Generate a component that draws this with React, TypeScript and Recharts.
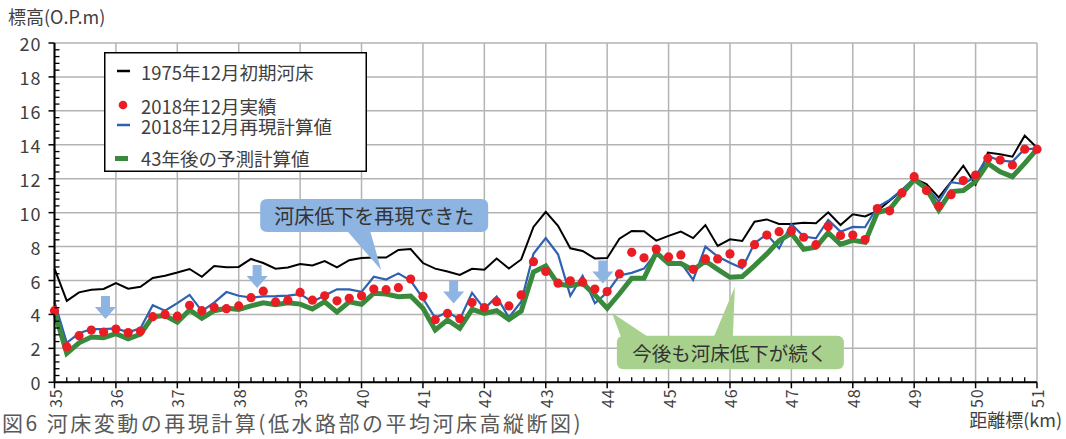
import React from 'react';
import { LineChart, Line, XAxis, YAxis, CartesianGrid, Legend, ReferenceDot } from 'recharts';

// 距離標 (km), every 200 m
const distanceKm = [
  35, 35.2, 35.4, 35.6, 35.8, 36, 36.2, 36.4, 36.6, 36.8,
  37, 37.2, 37.4, 37.6, 37.8, 38, 38.2, 38.4, 38.6, 38.8,
  39, 39.2, 39.4, 39.6, 39.8, 40, 40.2, 40.4, 40.6, 40.8,
  41, 41.2, 41.4, 41.6, 41.8, 42, 42.2, 42.4, 42.6, 42.8,
  43, 43.2, 43.4, 43.6, 43.8, 44, 44.2, 44.4, 44.6, 44.8,
  45, 45.2, 45.4, 45.6, 45.8, 46, 46.2, 46.4, 46.6, 46.8,
  47, 47.2, 47.4, 47.6, 47.8, 48, 48.2, 48.4, 48.6, 48.8,
  49, 49.2, 49.4, 49.6, 49.8, 50, 50.2, 50.4, 50.6, 50.8,
  51,
];

// 1975年12月初期河床
const bed1975 = [
  6.7, 4.8, 5.3, 5.45, 5.5, 5.85, 5.52, 5.63, 6.15, 6.28,
  6.47, 6.68, 6.22, 6.85, 6.78, 6.8, 7.27, 7.03, 6.7, 6.77,
  6.97, 6.89, 7.15, 6.78, 7.2, 7.32, 7.36, 7.35, 7.8, 7.85,
  7.03, 6.7, 6.53, 6.33, 6.69, 6.64, 7.3, 6.71, 7.24, 9.16,
  10.05, 9.22, 7.9, 7.74, 7.3, 7.32, 8.47, 8.92, 8.9, 8.35,
  8.63, 8.88, 8.5, 9.27, 8.04, 8.43, 8.33, 9.47, 9.6, 9.33,
  9.33, 9.41, 9.37, 10.02, 9.27, 9.9, 9.78, 10.1, 10.7, 11.3,
  12.0, 11.69, 10.9, 11.82, 12.77, 11.65, 13.54, 13.44, 13.3, 14.54,
  13.83,
];

// 2018年12月実績
const bed2018Observed = [
  4.22, 2.1, 2.75, 3.08, 2.96, 3.14, 2.93, 3.02, 3.87, 4.0,
  3.9, 4.54, 4.22, 4.42, 4.34, 4.5, 4.99, 5.37, 4.74, 4.84,
  5.3, 4.84, 5.1, 4.8, 4.95, 5.1, 5.5, 5.46, 5.58, 6.09,
  5.07, 3.69, 4.06, 3.75, 4.7, 4.4, 4.75, 4.5, 5.15, 7.11,
  6.53, 5.84, 5.98, 5.9, 5.5, 5.35, 6.39, 7.66, 7.34, 7.85,
  7.39, 7.51, 6.66, 7.27, 7.27, 7.57, 7.01, 8.11, 8.68, 8.88,
  8.92, 8.55, 8.11, 9.18, 8.66, 8.68, 8.41, 10.24, 10.11, 11.16,
  12.12, 11.3, 10.39, 11.06, 11.89, 12.22, 13.2, 13.1, 12.81, 13.74,
  13.74,
];

// 2018年12月再現計算値
const bed2018Reproduced = [
  4.75, 2.33, 2.89, 3.14, 3.14, 3.18, 2.95, 3.18, 4.54, 4.22,
  4.67, 5.15, 4.2, 4.7, 5.32, 5.1, 4.99, 5.07, 5.08, 5.11,
  5.2, 4.75, 5.12, 5.48, 5.48, 5.33, 6.22, 6.06, 6.42, 6.0,
  4.95, 3.8, 4.15, 3.7, 5.27, 4.33, 5.05, 3.82, 4.75, 7.58,
  8.5, 7.55, 5.1, 6.28, 4.66, 5.3, 6.3, 6.45, 6.7, 7.65,
  7.11, 7.06, 6.03, 8.0, 7.41, 7.05, 6.72, 8.2, 8.72, 7.9,
  9.33, 8.59, 8.49, 9.57, 8.88, 9.16, 9.14, 10.33, 10.75, 11.34,
  12.0, 11.53, 10.65, 11.79, 11.69, 12.12, 13.34, 13.07, 13.01, 13.76,
  13.76,
];

// 43年後の予測計算値
const bed43YearsLater = [
  4.15, 1.71, 2.33, 2.67, 2.63, 2.87, 2.56, 2.83, 3.87, 3.93,
  3.54, 4.26, 3.77, 4.22, 4.36, 4.3, 4.5, 4.69, 4.58, 4.69,
  4.61, 4.32, 4.75, 4.14, 4.74, 4.6, 5.25, 5.2, 5.05, 5.09,
  4.36, 3.08, 3.67, 3.18, 4.3, 4.06, 4.22, 3.71, 4.2, 6.5,
  6.86, 5.78, 5.7, 5.84, 5.15, 4.36, 5.22, 6.13, 6.13, 7.65,
  7.0, 7.0, 6.62, 7.15, 6.66, 6.19, 6.23, 6.88, 7.57, 8.35,
  8.78, 7.84, 7.96, 8.82, 8.13, 8.37, 8.26, 10.0, 10.2, 11.1,
  11.95, 11.43, 10.16, 11.24, 11.3, 11.83, 12.9, 12.41, 12.12, 12.9,
  13.74,
];

// labelled axis values
const kmLabels = [35, 36, 37, 38, 39, 40, 41, 42, 43, 44, 45, 46, 47, 48, 49, 50, 51];
const elevationLabels = [0, 2, 4, 6, 8, 10, 12, 14, 16, 18, 20];
// minor elevation ticks every 0.4 m
const elevationTicks = Array.from({ length: 51 }, (_, i) => Math.round(i * 4) / 10);

const data = distanceKm.map((km, i) => ({
  km,
  initial: bed1975[i],
  observed: bed2018Observed[i],
  reproduced: bed2018Reproduced[i],
  forecast: bed43YearsLater[i],
}));

const FONT = "'Noto Sans CJK JP', 'Noto Sans', sans-serif";
const TEXT = '#404040';
const BLUE_NOTE = '#8eb4e2';
const GREEN_NOTE = '#a9d18e';

const KmTick = (props: any) => {
  const { x, y, payload } = props;
  const v = payload.value;
  if (!Number.isInteger(v)) {
    return <line x1={x} x2={x} y1={y} y2={y - 5} stroke="#000" strokeWidth={1.3} />;
  }
  return (
    <g>
      <line x1={x} x2={x} y1={y} y2={y + 6} stroke="#000" strokeWidth={1.5} />
      <text
        transform={`translate(${x},${y + 6}) rotate(-90)`}
        textAnchor="end"
        dominantBaseline="central"
        fontFamily={FONT}
        fontSize={16}
        letterSpacing={1}
        fill={TEXT}
      >
        {v}
      </text>
    </g>
  );
};

const ElevationTick = (props: any) => {
  const { x, y, payload } = props;
  const v = payload.value;
  const major = Math.abs(v / 2 - Math.round(v / 2)) < 1e-6;
  if (!major) {
    return <line x1={x} x2={x + 5} y1={y} y2={y} stroke="#000" strokeWidth={1.3} />;
  }
  return (
    <g>
      <line x1={x - 6} x2={x} y1={y} y2={y} stroke="#000" strokeWidth={1.5} />
      <text
        x={x - 13}
        y={y}
        textAnchor="end"
        dominantBaseline="central"
        fontFamily={FONT}
        fontSize={18}
        letterSpacing={1}
        fill={TEXT}
      >
        {v}
      </text>
    </g>
  );
};

const LegendBox = () => (
  <svg width={263} height={120} style={{ display: 'block' }}>
    <rect x={0.75} y={0.75} width={261.5} height={118.5} fill="#fff" stroke="#000" strokeWidth={1.5} />
    <g fontFamily={FONT} fontSize={18.5} fill={TEXT}>
      <line x1={13} x2={26} y1={19} y2={19} stroke="#000" strokeWidth={2.5} />
      <text x={37} y={20} dominantBaseline="central">1975年12月初期河床</text>
      <circle cx={19} cy={53} r={4.3} fill="#ea1c24" />
      <text x={37} y={53.5} dominantBaseline="central">2018年12月実績</text>
      <line x1={13} x2={26} y1={73} y2={73} stroke="#2e62b0" strokeWidth={2.5} />
      <text x={37} y={74} dominantBaseline="central">2018年12月再現計算値</text>
      <line x1={11} x2={24} y1={106.5} y2={106.5} stroke="#3a8a3d" strokeWidth={5} />
      <text x={37} y={105.5} dominantBaseline="central">43年後の予測計算値</text>
    </g>
  </svg>
);

// light-blue downward arrow, anchored at its top centre
const DownArrow = (props: any) => {
  const { cx, cy } = props;
  const pts = [
    [cx - 4.5, cy], [cx + 4.5, cy], [cx + 4.5, cy + 11], [cx + 10.5, cy + 11],
    [cx, cy + 23], [cx - 10.5, cy + 11], [cx - 4.5, cy + 11],
  ].map((p) => p.join(',')).join(' ');
  return <polygon points={pts} fill={BLUE_NOTE} />;
};

const roundedBox = (x0: number, y0: number, x1: number, y1: number, r: number) =>
  `M${x0 + r},${y0} H${x1 - r} Q${x1},${y0} ${x1},${y0 + r} V${y1 - r} Q${x1},${y1} ${x1 - r},${y1} ` +
  `H${x0 + r} Q${x0},${y1} ${x0},${y1 - r} V${y0 + r} Q${x0},${y0} ${x0 + r},${y0} Z`;

// callout above the 1975 bed line; anchored at the pointer tip
const ReproducedNote = (props: any) => {
  const { cx, cy } = props;
  return (
    <g>
      <path d={roundedBox(cx - 121, cy - 71, cx + 107, cy - 38, 7)} fill={BLUE_NOTE} />
      <polygon points={`${cx - 34},${cy - 39} ${cx - 11},${cy - 39} ${cx},${cy}`} fill={BLUE_NOTE} />
      <text x={cx - 7} y={cy - 54.5} textAnchor="middle" dominantBaseline="central" fontFamily={FONT} fontSize={20} fill="#333">
        河床低下を再現できた
      </text>
    </g>
  );
};

// callout below the forecast line; anchored at the right pointer tip
const ForecastNote = (props: any) => {
  const { cx, cy } = props;
  return (
    <g>
      <path d={roundedBox(cx - 118, cy + 49, cx + 109, cy + 82.5, 7)} fill={GREEN_NOTE} />
      <polygon points={`${cx - 123},${cy + 26} ${cx - 114},${cy + 50} ${cx - 87},${cy + 50}`} fill={GREEN_NOTE} />
      <polygon points={`${cx - 21},${cy + 50} ${cx - 2},${cy + 50} ${cx},${cy}`} fill={GREEN_NOTE} />
      <text x={cx - 5} y={cy + 66} textAnchor="middle" dominantBaseline="central" fontFamily={FONT} fontSize={19.5} fill="#333">
        今後も河床低下が続く
      </text>
    </g>
  );
};

export default function App() {
  return (
    <div style={{ position: 'absolute', left: 0, top: 0, width: 1066, height: 439, background: '#fff' }}>
      <LineChart width={1066} height={439} data={data} margin={{ top: 43, right: 29, bottom: 0, left: 0 }}>
        <CartesianGrid
          stroke="#b3b3b3"
          strokeWidth={1.5}
          verticalValues={kmLabels}
          horizontalValues={elevationLabels}
        />
        <XAxis
          dataKey="km"
          type="number"
          domain={[35, 51]}
          ticks={distanceKm}
          interval={0}
          height={56.7}
          tickSize={0}
          tickMargin={0}
          tickLine={false}
          axisLine={{ stroke: '#000', strokeWidth: 2 }}
          tick={<KmTick />}
        />
        <XAxis
          xAxisId="top"
          orientation="top"
          type="number"
          domain={[35, 51]}
          height={0}
          tick={false}
          tickLine={false}
          axisLine={{ stroke: '#000', strokeWidth: 2 }}
        />
        <YAxis
          type="number"
          domain={[0, 20]}
          ticks={elevationTicks}
          interval={0}
          width={54.5}
          tickSize={0}
          tickMargin={0}
          tickLine={false}
          axisLine={{ stroke: '#000', strokeWidth: 2 }}
          tick={<ElevationTick />}
        />
        <YAxis
          yAxisId="right"
          orientation="right"
          type="number"
          domain={[0, 20]}
          width={0}
          tick={false}
          tickLine={false}
          axisLine={{ stroke: '#000', strokeWidth: 2 }}
        />
        <Line dataKey="initial" stroke="#000" strokeWidth={2} dot={false} activeDot={false} isAnimationActive={false} />
        <Line dataKey="reproduced" stroke="#2e62b0" strokeWidth={2.2} dot={false} activeDot={false} isAnimationActive={false} />
        <Line dataKey="forecast" stroke="#3a8a3d" strokeWidth={5} strokeLinejoin="miter" dot={false} activeDot={false} isAnimationActive={false} />
        <Line
          dataKey="observed"
          stroke="none"
          dot={{ r: 4.6, fill: '#ea1c24', stroke: 'none' }}
          activeDot={false}
          isAnimationActive={false}
        />
        <ReferenceDot x={35.83} y={5.08} shape={<DownArrow />} />
        <ReferenceDot x={38.3} y={6.91} shape={<DownArrow />} />
        <ReferenceDot x={41.5} y={6.0} shape={<DownArrow />} />
        <ReferenceDot x={43.93} y={7.18} shape={<DownArrow />} />
        <ReferenceDot x={40.32} y={6.62} shape={<ReproducedNote />} />
        <ReferenceDot x={46.08} y={5.63} shape={<ForecastNote />} />
        <Legend
          layout="horizontal"
          verticalAlign="middle"
          align="center"
          content={<LegendBox />}
          wrapperStyle={{ left: 104, top: 52, width: 263, height: 120 }}
        />
      </LineChart>
      <svg
        width={1066}
        height={439}
        style={{ position: 'absolute', left: 0, top: 0, pointerEvents: 'none' }}
        fontFamily={FONT}
      >
        <text x={8} y={24} fontSize={18} fill={TEXT}>標高(O.P.m)</text>
        <text x={1062} y={427} fontSize={18} fill={TEXT} textAnchor="end">距離標(km)</text>
        <text x={2} y={431} fontSize={21} letterSpacing={2.5} fill="#595959">図6 河床変動の再現計算(低水路部の平均河床高縦断図)</text>
      </svg>
    </div>
  );
}
